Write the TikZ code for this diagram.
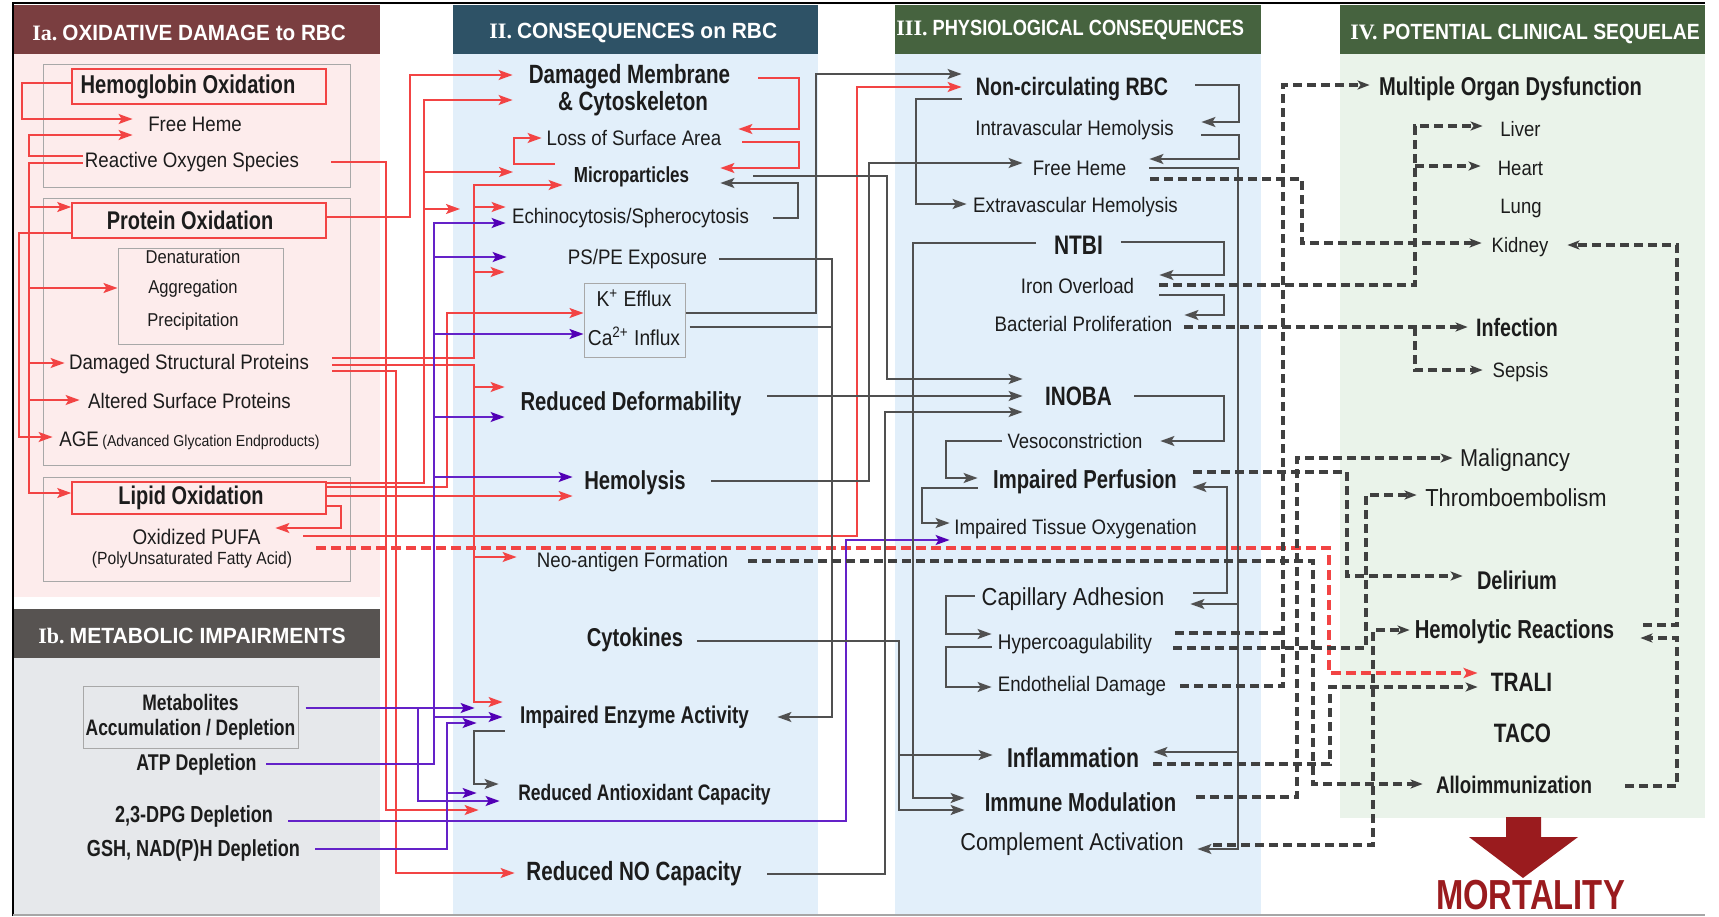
\documentclass[tikz,border=0pt]{standalone}
\usepackage{fontspec}
\usepackage{graphicx}
\setmainfont{Liberation Sans}
\newfontfamily\fr{Liberation Sans}[FakeStretch=0.89]
\newfontfamily\fb{Liberation Sans}[FakeStretch=0.78]
\newfontfamily\fser{Liberation Serif}
\usetikzlibrary{arrows.meta,calc}
\definecolor{hdIa}{HTML}{7A3E40}
\definecolor{bgIa}{HTML}{FDECEC}
\definecolor{hdIb}{HTML}{575351}
\definecolor{bgIb}{HTML}{E6E8EB}
\definecolor{hdII}{HTML}{2E5266}
\definecolor{bgII}{HTML}{E2EFFA}
\definecolor{hdIII}{HTML}{46633F}
\definecolor{bgIV}{HTML}{EAF3EA}
\definecolor{redl}{HTML}{F24444}
\definecolor{purl}{HTML}{6422C8}
\definecolor{purd}{HTML}{5200B5}
\definecolor{grayl}{HTML}{505050}
\definecolor{dashl}{HTML}{404040}
\definecolor{boxg}{HTML}{A8A8A8}
\definecolor{txt}{HTML}{1C1C1C}
\definecolor{mortred}{HTML}{9A1B1E}
\newcommand\fsR[1]{\fr\fontsize{#1}{#1}\selectfont}
\newcommand\fsB[1]{\fb\bfseries\fontsize{#1}{#1}\selectfont}
\newcommand\hdr[3]{{\fser\bfseries\fontsize{11}{11}\selectfont #1}\hspace{2.5pt}\scalebox{#2}[1]{\bfseries\fontsize{11}{11}\selectfont #3}}
\begin{document}
\begin{tikzpicture}[x=0.5pt,y=-0.5pt,
  lab/.style={inner sep=0pt,text=txt},
  mw/.style={minimum width=#1*0.5pt},
  R/.style={font=\fsR{#1}},
  B/.style={font=\fsB{#1}},
  hd/.style={anchor=west,inner sep=0pt,text=white},
  RL/.style={draw=redl,line width=0.8pt},
  PL/.style={draw=purl,line width=0.8pt},
  GL/.style={draw=grayl,line width=0.85pt},
  DL/.style={draw=dashl,line width=1.6pt,dash pattern=on 4.5pt off 2.5pt},
  RDL/.style={draw=redl,line width=1.7pt,dash pattern=on 5pt off 2.5pt},
  ar/.style={-{Stealth[length=7pt,width=5pt,inset=1.5pt]}},
  par/.style={-{Stealth[length=7pt,width=5pt,inset=1.5pt,color=purd]}},
  dar/.style={-{Stealth[length=6pt,width=4.5pt,inset=1.5pt]}},
  gbox/.style={draw=boxg,line width=0.5pt,inner sep=0pt}
]
\useasboundingbox (0,0) rectangle (1719,916);
% ---------- panels ----------
\fill[bgIa] (13,54) rectangle (380,597);
\fill[hdIa] (13,5) rectangle (380,54);
\fill[bgIb] (13,658) rectangle (380,916);
\fill[hdIb] (13,609) rectangle (380,658);
\fill[bgII] (453,54) rectangle (818,916);
\fill[hdII] (453,5) rectangle (818,54);
\fill[bgII] (895,54) rectangle (1261,916);
\fill[hdIII] (895,5) rectangle (1261,54);
\fill[bgIV] (1340,54) rectangle (1705,818);
\fill[hdIII] (1340,5) rectangle (1705,54);
\draw[black,line width=0.8pt] (13,916) -- (13,3) -- (1705,3);
\draw[black!35,line width=0.6pt] (13,915) -- (1705,915);
% headers
\node[hd] (hIa) at (32,33) {\hdr{Ia.}{0.94}{OXIDATIVE DAMAGE to RBC}};
\node[hd] (hII) at (489,33) {\hdr{II.}{0.95}{CONSEQUENCES on RBC}};
\node[hd] (hIII) at (896,30) {\hdr{III.}{0.83}{PHYSIOLOGICAL CONSEQUENCES}};
\node[hd] (hIV) at (1350,34) {\hdr{IV.}{0.88}{POTENTIAL CLINICAL SEQUELAE}};
\node[hd] (hIb) at (38,636) {\hdr{Ib.}{0.96}{METABOLIC IMPAIRMENTS}};
% group boxes
\draw[boxg,line width=0.5pt] (43,64) rectangle (350,187);
\draw[boxg,line width=0.5pt] (43,198) rectangle (350,465);
\draw[boxg,line width=0.5pt] (43,477) rectangle (350,581);
% ---------- Panel Ia ----------
\node[lab,B=12.9,draw=redl,line width=0.8pt,mw=254,minimum height=17.5pt] (hbo) at (199,86.5) {\hspace*{-11pt}Hemoglobin Oxidation};
\node[lab,R=10.5,mw=124] (fh1) at (195,124) {Free Heme};
\node[lab,R=10.5,mw=218] (ros) at (192,162) {Reactive Oxygen Species};
\node[lab,B=12.8,draw=redl,line width=0.8pt,mw=254,minimum height=17.5pt] (pro) at (199,220.5) {\hspace*{-9pt}Protein Oxidation};
\node[gbox,mw=165,minimum height=48pt] (denbox) at (200.5,296) {};
\node[lab,R=9.3] (den) at (193,257) {Denaturation};
\node[lab,R=9.3] (agg) at (193,289) {Aggregation};
\node[lab,R=9.3] (pre) at (193,322) {Precipitation};
\node[lab,R=10.5,mw=248] (dsp) at (189,364) {Damaged Structural Proteins};
\node[lab,R=10.5,mw=219] (asp) at (189.5,401) {Altered Surface Proteins};
\node[lab,font=\fr,mw=273] (age) at (189.5,441) {\fontsize{10.5}{10.5}\selectfont AGE\,\fontsize{7.9}{7.9}\selectfont(Advanced Glycation Endproducts)};
\node[lab,B=12.8,draw=redl,line width=0.8pt,mw=254,minimum height=16pt] (lip) at (199,498) {\hspace*{-8pt}Lipid Oxidation};
\node[lab,R=10.6,mw=157] (pufa) at (196.5,537) {Oxidized PUFA};
\node[lab,R=8.8] (pufa2) at (192,560) {(PolyUnsaturated Fatty Acid)};
% ---------- Panel Ib ----------
\node[gbox,mw=215,minimum height=31pt,text=txt,font=\fb\bfseries\fontsize{11.2}{12.5}\selectfont,align=center] (metbox) at (190.5,717) {Metabolites\\Accumulation / Depletion};
\node[lab,B=11.4,mw=139] (atp) at (196.5,765) {ATP Depletion};
\node[lab,B=11.6,mw=188] (dpg) at (194,816) {2,3-DPG Depletion};
\node[lab,B=11.6,mw=243] (gsh) at (193.5,850) {GSH, NAD(P)H Depletion};
% ---------- Panel II ----------
\node[lab,B=13.2,mw=233] (dm) at (629.5,77) {Damaged Membrane};
\node[lab,B=13.2,mw=240] (dm2) at (633,104) {\& Cytoskeleton};
\node[lab,R=10.5,mw=208] (lsa) at (634,138) {Loss of Surface Area};
\node[lab,B=10.9,mw=155] (mic) at (631.5,177) {Microparticles};
\node[lab,R=10.5,mw=249] (echi) at (630.5,218) {Echinocytosis/Spherocytosis};
\node[lab,R=10.5,mw=163] (psp) at (637.5,259) {PS/PE Exposure};
\node[gbox,mw=101,minimum height=37pt] (kbox) at (634.5,320) {};
\node[lab,R=10.8] (kef) at (634,298) {K\textsuperscript{+} Efflux};
\node[lab,R=10.8] (cain) at (634,336) {Ca\textsuperscript{2+} Influx};
\node[lab,B=13,mw=252] (rdef) at (631,404) {Reduced Deformability};
\node[lab,B=13,mw=124] (hem) at (635,483) {Hemolysis};
\node[lab,R=10.5,mw=231] (neo) at (632.5,562) {Neo-antigen Formation};
\node[lab,B=12.9,mw=124] (cyt) at (635,640) {Cytokines};
\node[lab,B=12.1,mw=263] (iea) at (634.5,717) {Impaired Enzyme Activity};
\node[lab,B=11.2,mw=291] (rac) at (644.5,795) {Reduced Antioxidant Capacity};
\node[lab,B=13.2,mw=238] (rno) at (634,874) {Reduced NO Capacity};
% ---------- Panel III ----------
\node[lab,B=12.6,mw=220] (ncr) at (1072,89) {Non-circulating RBC};
\node[lab,R=10.5,mw=253] (ivh) at (1074.5,130) {Intravascular Hemolysis};
\node[lab,R=10.5,mw=113] (fh3) at (1079.5,168) {Free Heme};
\node[lab,R=10.5,mw=217] (evh) at (1075.5,207) {Extravascular Hemolysis};
\node[lab,B=13.4,mw=84] (ntbi) at (1078.5,245) {NTBI};
\node[lab,R=10.5,mw=163] (iro) at (1077.5,286) {Iron Overload};
\node[lab,R=10.5,mw=201] (bac) at (1083.5,324) {Bacterial Proliferation};
\node[lab,B=13.3,mw=111] (inoba) at (1078.5,396) {INOBA};
\node[lab,R=10.4,mw=170] (ves) at (1075,441) {Vesoconstriction};
\node[lab,B=13,mw=214] (ipf) at (1085,482) {Impaired Perfusion};
\node[lab,R=10.5,mw=251] (ito) at (1075.5,529) {Impaired Tissue Oxygenation};
\node[lab,R=12.3,mw=234] (capn) at (1073,599) {Capillary Adhesion};
\node[lab,R=10.6,mw=166] (hyp) at (1075,644) {Hypercoagulability};
\node[lab,R=10.5,mw=180] (endn) at (1082,686) {Endothelial Damage};
\node[lab,B=13.6,mw=160] (inf) at (1073,758) {Inflammation};
\node[lab,B=13,mw=231] (imm) at (1080.5,802) {Immune Modulation};
\node[lab,R=12.2,mw=250] (cac) at (1072,844) {Complement Activation};
% ---------- Panel IV ----------
\node[lab,B=12.9,mw=281] (mod) at (1510.5,89) {Multiple Organ Dysfunction};
\node[lab,R=10.4,mw=75] (liv) at (1520.5,129) {Liver};
\node[lab,R=10.4,mw=79] (hea) at (1520.5,168) {Heart};
\node[lab,R=10.4] (lun) at (1521,208) {Lung};
\node[lab,R=10.4,mw=76] (kid) at (1520,247) {Kidney};
\node[lab,B=12.6,mw=98] (infc) at (1517,327) {Infection};
\node[lab,R=10.4,mw=75] (sep) at (1520.5,372) {Sepsis};
\node[lab,R=12.2,mw=124] (mal) at (1515,460) {Malignancy};
\node[lab,R=12.3,mw=198] (thr) at (1516,498) {Thromboembolism};
\node[lab,B=12.8,mw=108] (del) at (1517,580) {Delirium};
\node[lab,B=13,mw=209] (hr) at (1514.5,632) {Hemolytic Reactions};
\node[lab,B=13.3,mw=87] (trali) at (1521.5,682) {TRALI};
\node[lab,B=13.3] (taco) at (1522.5,733) {TACO};
\node[lab,B=12,mw=182] (allo) at (1514,785) {Alloimmunization};
\fill[mortred] (1506,817) -- (1541,817) -- (1541,837) -- (1578,837) -- (1523,878) -- (1469,837) -- (1506,837) -- cycle;
\node[lab,B=21,text=mortred] (mort) at (1530.5,895) {MORTALITY};
% ---------- red connectors ----------
\draw[RL,ar] (hbo.west |- 0,83) -| (22,119) -- (fh1.west |- 0,119);
\draw[RL,ar] (ros.west |- 0,156) -| (29,135) -- (fh1.west |- 0,135);
\draw[RL,ar] (ros.west |- 0,163) -| (29,493) -- (lip.west |- 0,493);
\draw[RL,ar] (29,207) -- (pro.west |- 0,207);
\draw[RL,ar] (29,288) -- (denbox.west |- 0,288);
\draw[RL,ar] (29,363) -- (dsp.west |- 0,363);
\draw[RL,ar] (29,400) -- (asp.west |- 0,400);
\draw[RL,ar] (pro.west |- 0,233) -| (19,437) -- (age.west |- 0,437);
\draw[RL,ar] (pro.east |- 0,217) -| (410,75) -- (dm.west |- 0,75);
\draw[RL,ar] (lip.east |- 0,483) -| (424,100) -- (dm2.west |- 0,100);
\draw[RL,ar] (424,172) -- (513,172);
\draw[RL,ar] (424,209) -- (460,209);
\draw[RL,ar] (lip.east |- 0,487) -| (447,313) -- (kbox.west |- 0,313);
\draw[RL,ar] (lip.east |- 0,496) -- (hem.west |- 0,496);
\draw[RL,ar] (lip.east |- 0,506) -| (341,528) -- (pufa.east |- 0,528);
\draw[RL,ar] ($(ros.east |- 0,162)+(30,0)$) -| (386,810) -- ($(rac.west |- 0,810)+(-20,0)$);
\draw[RL,ar] ($(dsp.east |- 0,358)+(19,0)$) -| (474,185) -- ($(mic.west |- 0,185)+(9,0)$);
\draw[RL,ar] (474,207) -- (echi.west |- 0,207);
\draw[RL,ar] (474,272) -- ($(psp.west |- 0,272)+(-51,0)$);
\draw[RL,ar] (474,387) -- (rdef.west |- 0,387);
\draw[RL,ar] ($(dsp.east |- 0,365)+(19,0)$) -| (474,702) -- (iea.west |- 0,702);
\draw[RL,ar] (474,557) -- (neo.west |- 0,557);
\draw[RL,ar] ($(dsp.east |- 0,371)+(19,0)$) -| (396,873) -- (rno.west |- 0,873);
\draw[RL,ar] ($(dm.east |- 0,78)+(12,0)$) -| (799,129) -- (lsa.east |- 0,129);
\draw[RL,ar] ($(lsa.east |- 0,142)+(4,0)$) -| (799,168) -- ($(mic.east |- 0,168)+(11,0)$);
\draw[RL,ar] ($(mic.west |- 0,164)+(1,0)$) -| (514,138) -- ($(lsa.west |- 0,138)+(12,0)$);
\draw[RL,ar] ($(pufa.east |- 0,536)+(28,0)$) -| (857,87) -- (ncr.west |- 0,87);
\draw[RDL,ar] ($(pufa.east |- 0,548)+(41,0)$) -| (1329,673) -- (trali.west |- 0,673);
% ---------- purple connectors ----------
\draw[PL,par] ($(metbox.east |- 0,708)+(7,0)$) -- ($(iea.west |- 0,708)+(-28,0)$);
\draw[PL,par] (418,708) |- ($(rac.west |- 0,801)+(1,0)$);
\draw[PL,par] (atp.east |- 0,764) -| (434,223) -- (echi.west |- 0,223);
\draw[PL,par] (434,257) -- ($(psp.west |- 0,257)+(-49,0)$);
\draw[PL,par] (434,334) -- (kbox.west |- 0,334);
\draw[PL,par] (434,417) -- (rdef.west |- 0,417);
\draw[PL,par] (434,477) -- (hem.west |- 0,477);
\draw[PL,par] (434,717) -- (iea.west |- 0,717);
\draw[PL,par] (dpg.east |- 0,821) -| (846,540) -- (ito.west |- 0,540);
\draw[PL,par] (gsh.east |- 0,849) -| (447,723) -- ($(iea.west |- 0,723)+(-26,0)$);
\draw[PL,par] (447,793) -- ($(rac.west |- 0,793)+(-22,0)$);
% ---------- gray connectors ----------
\draw[GL,ar] ($(echi.east |- 0,218)+(18,0)$) -| (798,183) -- ($(mic.east |- 0,183)+(11,0)$);
\draw[GL,ar] ($(mic.east |- 0,176)+(44,0)$) -| (887,379) -- (inoba.west |- 0,379);
\draw[GL,ar] (psp.east |- 0,259) -| (832,717) -- ($(iea.east |- 0,717)+(11,0)$);
\draw[GL] ($(kbox.east |- 0,327)+(4,0)$) -- (832,327);
\draw[GL,ar] (kbox.east |- 0,313) -| (816,74) -- (ncr.west |- 0,74);
\draw[GL,ar] ($(rdef.east |- 0,396)+(10,0)$) -- (inoba.west |- 0,396);
\draw[GL,ar] ($(hem.east |- 0,481)+(14,0)$) -| (869,163) -- (fh3.west |- 0,163);
\draw[GL,ar] (cyt.east |- 0,641) -| (899,810) -- (imm.west |- 0,810);
\draw[GL,ar] (899,755) -- (inf.west |- 0,755);
\draw[GL,ar] ($(rno.east |- 0,874)+(14,0)$) -| (885,412) -- (inoba.west |- 0,412);
\draw[GL,ar] ($(iea.west |- 0,731)+(2,0)$) -| (474,784) -- (rac.west |- 0,784);
\draw[GL,ar] ($(ncr.east |- 0,85)+(13,0)$) -| (1239,122) -- (ivh.east |- 0,122);
\draw[GL,ar] (ivh.east |- 0,135) -| (1239,159) -- ($(fh3.east |- 0,159)+(13,0)$);
\draw[GL,ar] (ncr.west |- 0,99) -| (916,204) -- (evh.west |- 0,204);
\draw[GL,ar] (ntbi.east |- 0,242) -| (1224,275) -- (iro.east |- 0,275);
\draw[GL,ar] (iro.east |- 0,295) -| (1224,315) -- (bac.east |- 0,315);
\draw[GL,ar] (ntbi.west |- 0,243) -| (913,798) -- (imm.west |- 0,798);
\draw[GL,ar] ($(fh3.east |- 0,168)+(13,0)$) -| (1238,849) -- (cac.east |- 0,849);
\draw[GL,ar] (1238,604) -- (capn.east |- 0,604);
\draw[GL,ar] (1238,752) -- (inf.east |- 0,752);
\draw[GL,ar] (inoba.east |- 0,396) -| (1224,441) -- (ves.east |- 0,441);
\draw[GL,ar] ($(ves.west |- 0,441)+(12,0)$) -| (946,478) -- (ipf.west |- 0,478);
\draw[GL,ar] (ipf.west |- 0,488) -| (922,523) -- (ito.west |- 0,523);
\draw[GL,ar] ($(capn.east |- 0,593)+(3,0)$) -| (1227,487) -- (ipf.east |- 0,487);
\draw[GL,ar] ($(capn.west |- 0,596)+(19,0)$) -| (946,634) -- (hyp.west |- 0,634);
\draw[GL,ar] (hyp.west |- 0,647) -| (946,687) -- (endn.west |- 0,687);
% ---------- dashed connectors ----------
\draw[DL,dar] ($(fh3.east |- 0,179)+(14,0)$) -| (1302,243) -- (kid.west |- 0,243);
\draw[DL,dar] ($(endn.east |- 0,686)+(8,0)$) -| (1283,85) -- (mod.west |- 0,85);
\draw[DL] ($(hyp.east |- 0,633)+(17,0)$) -- (1283,633);
\draw[DL,dar] (iro.east |- 0,285) -| (1415,126) -- (liv.west |- 0,126);
\draw[DL,dar] (1415,166) -- (hea.west |- 0,166);
\draw[DL,dar] (bac.east |- 0,327) -- (infc.west |- 0,327);
\draw[DL,dar] (1415,327) |- (sep.west |- 0,370);
\draw[DL,dar] ($(ipf.east |- 0,472)+(1,0)$) -| (1347,576) -- (del.west |- 0,576);
\draw[DL,dar] (imm.east |- 0,797) -| (1297,458) -- (mal.west |- 0,458);
\draw[DL,dar] (neo.east |- 0,561) -| (1313,784) -- (allo.west |- 0,784);
\draw[DL,dar] ($(hyp.east |- 0,648)+(15,0)$) -| (1366,495) -- (thr.west |- 0,495);
\draw[DL,dar] (inf.east |- 0,764) -| (1330,687) -- (trali.west |- 0,687);
\draw[DL,dar] ($(cac.east |- 0,845)+(16,0)$) -| (1373,630) -- (hr.west |- 0,630);
\draw[DL,dar] ($(hr.east |- 0,625)+(24,0)$) -| (1677,245) -- ($(kid.east |- 0,245)+(9,0)$);
\draw[DL,dar] ($(allo.east |- 0,786)+(20,0)$) -| (1677,638) -- ($(hr.east |- 0,638)+(21,0)$);
\end{tikzpicture}
\end{document}
